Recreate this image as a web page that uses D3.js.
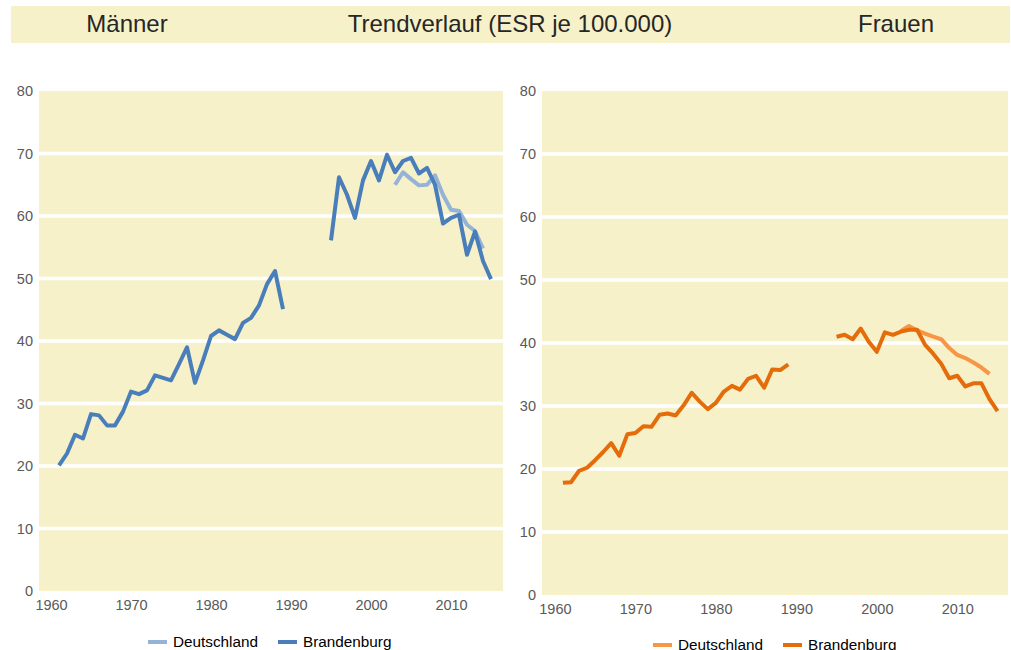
<!DOCTYPE html>
<html>
<head>
<meta charset="utf-8">
<script src="https://cdn.jsdelivr.net/npm/d3@7"></script>
<style>
  body { margin: 0; background: #fff; }
  svg { display: block; }
</style>
</head>
<body>
<div id="trend_chart"></div>
<script>
(function () {

  'use strict';

  const FONT_FAMILY = 'Liberation Sans, Arial, sans-serif';
  const BG_COLOR = '#f6f1c9';

  // Data: years and ESR per 100.000 (null = no value).
  const years = d3.range(1961, 2016);

  const maennerBrandenburg = [
    20.1, 22.0, 25.0, 24.4, 28.3, 28.1, 26.5, 26.5, 28.7, 31.9,
    31.5, 32.1, 34.5, 34.1, 33.7, 36.3, 39.0, 33.3, 36.9, 40.8,
    41.7, 41.0, 40.3, 42.9, 43.7, 45.7, 49.1, 51.2, 45.1,
    null, null, null, null, null,
    56.1, 66.2, 63.4, 59.7, 65.7, 68.8, 65.7, 69.8, 67.0, 68.8,
    69.3, 66.8, 67.7, 65.0, 58.8, 59.7, 60.2, 53.8, 57.5, 52.8, 49.9
  ];
  const maennerDeutschland = [
    null, null, null, null, null, null, null, null, null, null,
    null, null, null, null, null, null, null, null, null, null,
    null, null, null, null, null, null, null, null, null, null,
    null, null, null, null, null, null, null, null, null, null,
    null, null,
    65.0, 67.0, 65.9, 64.9, 65.0, 66.5, 63.4, 61.0, 60.8, 58.6, 57.6, 54.8, null
  ];
  const frauenBrandenburg = [
    17.8, 17.9, 19.7, 20.2, 21.4, 22.7, 24.1, 22.1, 25.5, 25.7,
    26.8, 26.7, 28.6, 28.8, 28.5, 30.1, 32.1, 30.7, 29.5, 30.5,
    32.3, 33.2, 32.6, 34.3, 34.8, 32.9, 35.8, 35.7, 36.6,
    null, null, null, null, null,
    41.0, 41.3, 40.6, 42.3, 40.2, 38.6, 41.7, 41.3, 41.8, 42.1,
    42.1, 39.7, 38.3, 36.7, 34.4, 34.8, 33.1, 33.6, 33.6, 31.1, 29.2
  ];
  const frauenDeutschland = [
    null, null, null, null, null, null, null, null, null, null,
    null, null, null, null, null, null, null, null, null, null,
    null, null, null, null, null, null, null, null, null, null,
    null, null, null, null, null, null, null, null, null, null,
    null, null,
    41.9, 42.7, 42.0, 41.5, 41.0, 40.6, 39.2, 38.1, 37.6, 36.9, 36.1, 35.1, null
  ];

  const yTicks = d3.range(0, 81, 10);
  const xTicks = d3.range(1960, 2011, 10);
  const legendLabels = ['Deutschland', 'Brandenburg'];
  const headerTitles = ['Männer', 'Trendverlauf (ESR je 100.000)', 'Frauen'];

  // Panel layout (pixels).
  let panels = [
    {
      left: 39, right: 503, top: 91, bottom: 591,
      domain: [1958.5, 2016.5],
      series: [maennerDeutschland, maennerBrandenburg],
      colors: ['#95b3d7', '#4a7ebb'],
      legend: {y: 642, items: [148, 278]}
    },
    {
      left: 542, right: 1008, top: 91, bottom: 595,
      domain: [1958.4, 2016.3],
      series: [frauenDeutschland, frauenBrandenburg],
      colors: ['#f79646', '#e46c0a'],
      legend: {y: 645, items: [653, 783]}
    }
  ];

  let svg = d3.select('#trend_chart')
    .append('svg')
    .attr('width', 1011)
    .attr('height', 650)
    .style('font-family', FONT_FAMILY);

  // Header band.
  svg.append('rect')
    .attr('x', 11)
    .attr('y', 6)
    .attr('width', 999)
    .attr('height', 37)
    .style('fill', BG_COLOR);

  let headerX = [127, 510, 896];
  headerTitles.forEach(function (title, i) {
    svg.append('text')
      .attr('x', headerX[i])
      .attr('y', 32)
      .attr('text-anchor', 'middle')
      .style('font-size', '24px')
      .style('fill', '#262626')
      .text(title);
  });

  panels.forEach(function (panel) {
    let x = d3.scaleLinear()
      .domain(panel.domain)
      .range([panel.left, panel.right]);

    let y = d3.scaleLinear()
      .domain([0, 80])
      .range([panel.bottom, panel.top]);

    // Plot background.
    svg.append('rect')
      .attr('x', panel.left)
      .attr('y', panel.top)
      .attr('width', panel.right - panel.left)
      .attr('height', panel.bottom - panel.top)
      .style('fill', BG_COLOR);

    // Gridlines.
    svg.append('g')
      .selectAll('line')
      .data(yTicks.filter(function (t) { return t > 0 && t < 80; }))
      .enter()
      .append('line')
      .attr('x1', panel.left)
      .attr('x2', panel.right)
      .attr('y1', function (t) { return y(t); })
      .attr('y2', function (t) { return y(t); })
      .style('stroke', '#ffffff')
      .style('stroke-width', 3.5);

    // Y axis.
    let yAxis = svg.append('g')
      .attr('transform', 'translate(' + panel.left + ',0)')
      .call(d3.axisLeft(y).tickValues(yTicks).tickSize(0).tickPadding(6));
    yAxis.select('.domain').remove();
    yAxis.selectAll('text')
      .style('font-size', '14.5px')
      .style('font-family', FONT_FAMILY)
      .style('fill', '#595959');

    // X axis.
    let xAxis = svg.append('g')
      .attr('transform', 'translate(0,' + panel.bottom + ')')
      .call(d3.axisBottom(x).tickValues(xTicks).tickSize(0).tickPadding(8.5)
        .tickFormat(d3.format('d')));
    xAxis.select('.domain').remove();
    xAxis.selectAll('text')
      .style('font-size', '14.5px')
      .style('font-family', FONT_FAMILY)
      .style('fill', '#595959');

    // Lines.
    let line = d3.line()
      .defined(function (d) { return d.value !== null; })
      .x(function (d) { return x(d.year); })
      .y(function (d) { return y(d.value); });

    panel.series.forEach(function (values, i) {
      let points = years.map(function (year, k) {
        return {year: year, value: values[k]};
      });
      svg.append('path')
        .datum(points)
        .attr('d', line)
        .style('fill', 'none')
        .style('stroke', panel.colors[i])
        .style('stroke-width', 4)
        .style('stroke-linejoin', 'round');
    });

    // Legend.
    legendLabels.forEach(function (label, i) {
      let lx = panel.legend.items[i];
      svg.append('line')
        .attr('x1', lx)
        .attr('x2', lx + 19)
        .attr('y1', panel.legend.y)
        .attr('y2', panel.legend.y)
        .style('stroke', panel.colors[i])
        .style('stroke-width', 4);
      svg.append('text')
        .attr('x', lx + 25)
        .attr('y', panel.legend.y + 5)
        .style('font-size', '15.3px')
        .style('fill', '#000000')
        .text(label);
    });
  });

}());
</script>
</body>
</html>
